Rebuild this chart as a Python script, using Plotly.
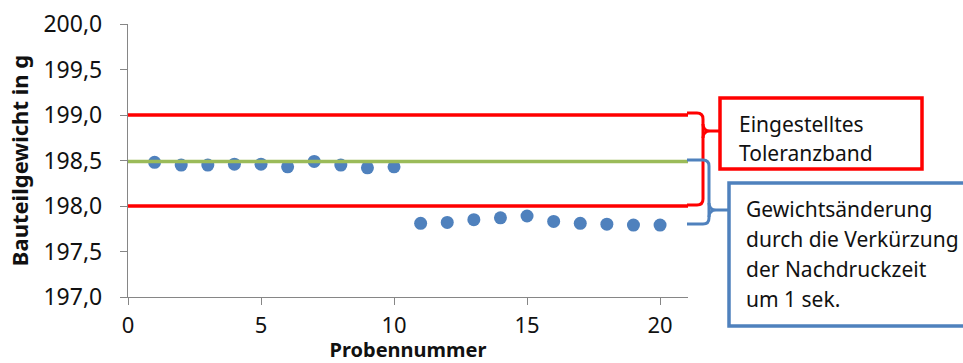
import plotly.graph_objects as go

# Sample numbers and measured part weights (g)
samples_a = [1, 2, 3, 4, 5, 6, 7, 8, 9, 10]
weights_a = [198.48, 198.45, 198.45, 198.46, 198.46, 198.43, 198.49, 198.45, 198.42, 198.43]
samples_b = [11, 12, 13, 14, 15, 16, 17, 18, 19, 20]
weights_b = [197.81, 197.82, 197.85, 197.87, 197.89, 197.83, 197.81, 197.80, 197.79, 197.79]

# Tolerance band limits and nominal weight
tol_upper = 199.0
tol_lower = 198.0
nominal = 198.49
x_span = [0, 21.05]

# Callout texts, one entry per line
label_band = ["Eingestelltes", "Toleranzband"]
label_change = ["Gewichtsänderung", "durch die Verkürzung", "der Nachdruckzeit", "um 1 sek."]

W, H = 963, 363
L, R, T, B = 128, 688, 24, 297

FONT = "Noto Sans"
TXT = "#111111"
RED = "#FF0000"
GREEN = "#9BBB59"
BLUE = "#4F81BD"
AXIS = "#868686"


def px(xp, yp):
    """Convert pixel coordinates of the page into paper coordinates."""
    return (xp - L) / (R - L), 1 - (yp - T) / (B - T)


def path(cmds):
    out = []
    for c in cmds:
        if isinstance(c, str):
            out.append(c)
        else:
            x, y = px(*c)
            out.append(f"{x:.5f},{y:.5f}")
    return " ".join(out)


fig = go.Figure()

fig.add_trace(go.Scatter(
    x=samples_a + samples_b, y=weights_a + weights_b, mode="markers",
    marker=dict(color=BLUE, size=13), showlegend=False, cliponaxis=False))
fig.add_trace(go.Scatter(
    x=x_span, y=[tol_upper, tol_upper], mode="lines",
    line=dict(color=RED, width=3.5), showlegend=False, cliponaxis=False))
fig.add_trace(go.Scatter(
    x=x_span, y=[tol_lower, tol_lower], mode="lines",
    line=dict(color=RED, width=3.5), showlegend=False, cliponaxis=False))
fig.add_trace(go.Scatter(
    x=x_span, y=[nominal, nominal], mode="lines",
    line=dict(color=GREEN, width=3.5), showlegend=False, cliponaxis=False))

shapes = []
# Red brace around the tolerance band
shapes.append(dict(type="path", xref="paper", yref="paper",
                   path=path(["M", (687, 113), "L", (697, 113), "Q", (703, 113), (703, 119),
                              "L", (703, 199), "Q", (703, 205), (697, 205), "L", (687, 205)]),
                   line=dict(color=RED, width=3)))
shapes.append(dict(type="path", xref="paper", yref="paper",
                   path=path(["M", (703, 124), "Q", (703, 131), (710, 131), "L", (721, 131),
                              "M", (703, 138), "Q", (703, 131), (710, 131)]),
                   line=dict(color=RED, width=3)))
# Blue brace around the weight shift
shapes.append(dict(type="path", xref="paper", yref="paper",
                   path=path(["M", (687, 160), "L", (703, 160), "Q", (709, 160), (709, 166),
                              "L", (709, 218), "Q", (709, 224), (703, 224), "L", (687, 224)]),
                   line=dict(color=BLUE, width=3)))
shapes.append(dict(type="path", xref="paper", yref="paper",
                   path=path(["M", (709, 203), "Q", (709, 210), (716, 210), "L", (729, 210),
                              "M", (709, 217), "Q", (709, 210), (716, 210)]),
                   line=dict(color=BLUE, width=3)))

# Callout boxes
x0, y0 = px(720, 169)
x1, y1 = px(922, 98)
shapes.append(dict(type="rect", xref="paper", yref="paper", x0=x0, y0=y0, x1=x1, y1=y1,
                   line=dict(color=RED, width=3.5), fillcolor="white"))
x0, y0 = px(729, 326)
x1, y1 = px(980, 183)
shapes.append(dict(type="rect", xref="paper", yref="paper", x0=x0, y0=y0, x1=x1, y1=y1,
                   line=dict(color=BLUE, width=3.5), fillcolor="white"))

ann = []
for i, line in enumerate(label_band):
    ax, ay = px(737, 124 + 29 * i)
    ann.append(dict(xref="paper", yref="paper", x=ax, y=ay, text=line, showarrow=False,
                    xanchor="left", yanchor="middle", align="left",
                    font=dict(family=FONT, size=21, color=TXT)))
for i, line in enumerate(label_change):
    ax, ay = px(744, 209 + 30 * i)
    ann.append(dict(xref="paper", yref="paper", x=ax, y=ay, text=line, showarrow=False,
                    xanchor="left", yanchor="middle", align="left",
                    font=dict(family=FONT, size=21, color=TXT)))

fig.update_layout(
    width=W, height=H,
    margin=dict(l=L, r=W - R, t=T, b=H - B),
    paper_bgcolor="white", plot_bgcolor="white",
    separators=",.",
    font=dict(family=FONT, color=TXT),
    shapes=shapes, annotations=ann,
    xaxis=dict(range=x_span, dtick=5, tick0=0, showgrid=False, zeroline=False, automargin=False,
               showline=True, linecolor=AXIS, linewidth=1.3,
               ticks="outside", ticklen=7, tickcolor=AXIS, ticklabelstandoff=1,
               tickfont=dict(size=22, family=FONT, color=TXT),
               title=dict(text="<b>Probennummer</b>", font=dict(size=20, family=FONT, color=TXT),
                          standoff=4)),
    yaxis=dict(range=[197, 200], dtick=0.5, tick0=197, tickformat=".1f", showgrid=False,
               zeroline=False, showline=True, linecolor=AXIS, linewidth=1.3, automargin=False,
               ticks="outside", ticklen=7, tickcolor=AXIS, ticklabelstandoff=13,
               tickfont=dict(size=23, family=FONT, color=TXT),
               title=dict(text="<b>Bauteilgewicht in g</b>", font=dict(size=22, family=FONT, color=TXT),
                          standoff=8)),
)

fig.write_html("out.html")
